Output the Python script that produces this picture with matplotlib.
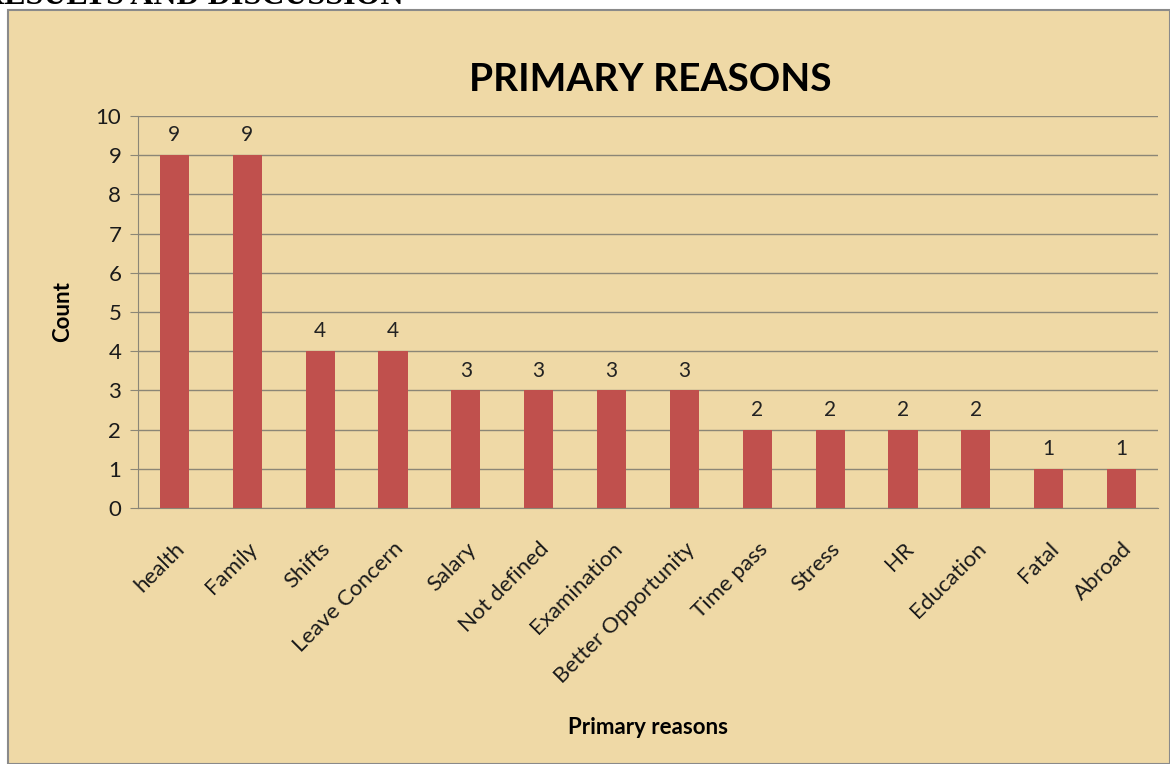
import matplotlib.pyplot as plt
from matplotlib.patches import Rectangle

reasons = ["health", "Family", "Shifts", "Leave Concern", "Salary", "Not defined",
           "Examination", "Better Opportunity", "Time pass", "Stress", "HR",
           "Education", "Fatal", "Abroad"]
counts = [9, 9, 4, 4, 3, 3, 3, 3, 2, 2, 2, 2, 1, 1]
yticks = list(range(0, 11))

plt.rcParams['font.family'] = ['Lato', 'DejaVu Sans']

fig = plt.figure(figsize=(11.7, 7.64), dpi=100)
fig.patch.set_facecolor('white')

# parchment panel
panel = Rectangle((8 / 1170, 0), 1 - 8 / 1170, 1 - 10 / 764, transform=fig.transFigure,
                  facecolor='#efd9a6', edgecolor='#8a8a8a', linewidth=1.5, zorder=-5)
fig.patches.append(panel)

# section heading cut off at the top of the page
fig.text(-0.016, 1 - 4 / 764, "RESULTS AND DISCUSSION", family='Liberation Serif',
         fontweight='bold', fontsize=23, va='baseline', ha='left', zorder=5)

ax = fig.add_axes([138 / 1170, 1 - 508 / 764, (1158 - 138) / 1170, (508 - 116) / 764])
ax.set_zorder(2)
ax.set_facecolor('none')

x = range(len(reasons))
ax.bar(x, counts, width=0.4, color='#c0504d', zorder=3)
for xi, c in zip(x, counts):
    ax.annotate(str(c), (xi, c), xytext=(0, 7), textcoords='offset points',
                ha='center', va='bottom', fontsize=15, color='#222222')

ax.set_xlim(-0.5, len(reasons) - 0.5)
ax.set_ylim(0, 10)
ax.set_yticks(yticks)
ax.yaxis.grid(True, color='#8b8676', linewidth=1)
ax.set_axisbelow(True)
for s in ['top', 'right']:
    ax.spines[s].set_visible(False)
ax.spines['left'].set_color('#8b8676')
ax.spines['bottom'].set_color('#8b8676')
ax.tick_params(axis='y', length=6, color='#8b8676', labelsize=16, pad=6,
               labelcolor='#1a1a1a')
ax.tick_params(axis='x', length=0, labelsize=16, pad=22, labelcolor='#1a1a1a')
ax.set_xticks(list(x))
ax.set_xticklabels(reasons, rotation=45, ha='right', va='top', rotation_mode='anchor')

ax.set_title("PRIMARY REASONS", fontsize=28, fontweight='bold', pad=18,
             x=(650 - 138) / (1158 - 138))
ax.set_ylabel("Count", fontsize=16, fontweight='bold', labelpad=16)
fig.text(648 / 1170, 1 - 727 / 764, "Primary reasons", fontsize=16, fontweight='bold',
         ha='center', va='center')

fig.savefig('out.png', dpi=100)
